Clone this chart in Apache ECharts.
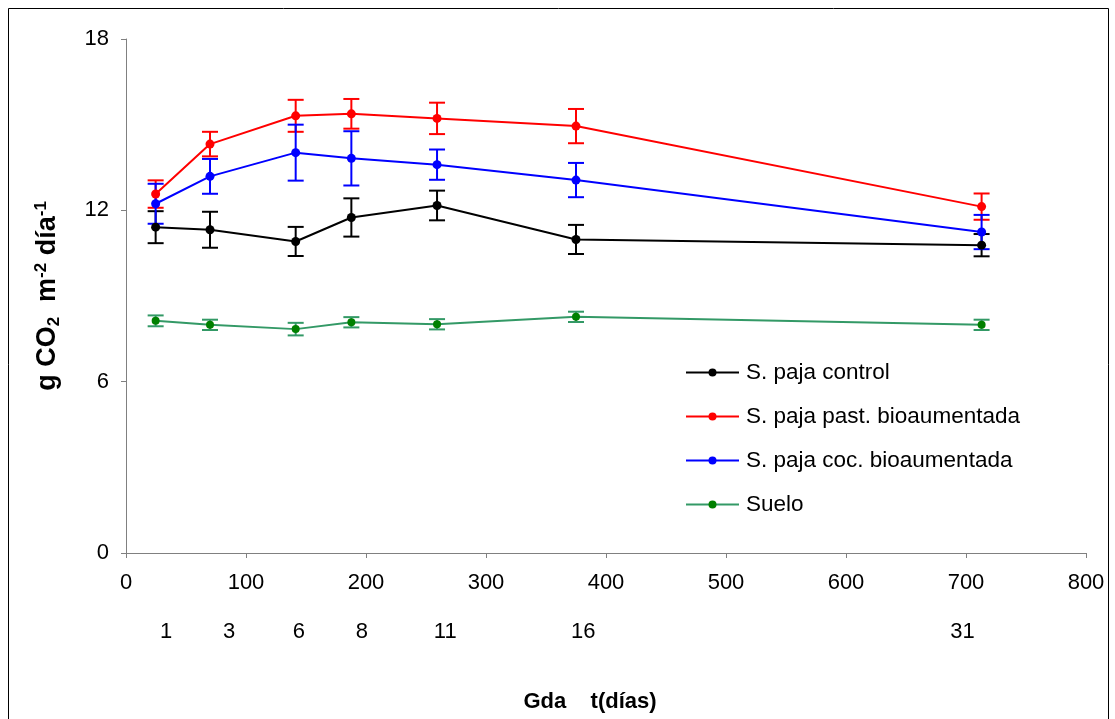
<!DOCTYPE html>
<html>
<head>
<meta charset="utf-8">
<script src="https://cdn.jsdelivr.net/npm/echarts@6/dist/echarts.min.js"></script>
<style>
html,body{margin:0;padding:0;background:#fff;}
#c{width:1115px;height:719px;}
</style>
</head>
<body>
<div id="c"></div>
<script>
// ---- data ----
const xDays = [24.7, 70, 141.4, 187.8, 259.2, 375, 713];
const seriesNames = ['S. paja control', 'S. paja past. bioaumentada', 'S. paja coc. bioaumentada', 'Suelo'];
const control = [11.41, 11.32, 10.91, 11.75, 12.17, 10.98, 10.78];
const controlErr = [0.56, 0.63, 0.51, 0.67, 0.52, 0.51, 0.39];
const past = [12.57, 14.32, 15.31, 15.38, 15.22, 14.95, 12.13];
const pastErr = [0.48, 0.43, 0.56, 0.52, 0.55, 0.60, 0.46];
const coc = [12.23, 13.19, 14.02, 13.82, 13.60, 13.06, 11.24];
const cocErr = [0.70, 0.61, 0.98, 0.95, 0.53, 0.60, 0.60];
const suelo = [8.13, 7.99, 7.84, 8.08, 8.01, 8.27, 7.99];
const sueloErr = [0.19, 0.18, 0.22, 0.18, 0.18, 0.18, 0.18];
const dayLabels = ['1', '3', '6', '8', '11', '16', '31'];
const dayLabelAt = [33.5, 86, 144, 196.5, 266, 381, 697];

const FONT = "'Liberation Sans', Arial, sans-serif";
const lineColors = ['#000000', '#ff0000', '#0000ff', '#339966'];
const markColors = ['#000000', '#ff0000', '#0000ff', '#008000'];
const values = [control, past, coc, suelo];
const errs = [controlErr, pastErr, cocErr, sueloErr];

function errSeries(i) {
  return {
    type: 'custom',
    name: 'err' + i,
    xAxisIndex: 0, yAxisIndex: 0,
    z: 3,
    silent: true,
    data: xDays.map((x, k) => [x, values[i][k], errs[i][k]]),
    renderItem: function (params, api) {
      const x = api.value(0), y = api.value(1), e = api.value(2);
      const t = api.coord([x, y + e]);
      const b = api.coord([x, y - e]);
      const hw = 8;
      const st = { stroke: lineColors[i], lineWidth: 2 };
      return {
        type: 'group',
        children: [
          { type: 'line', shape: { x1: t[0], y1: t[1], x2: b[0], y2: b[1] }, style: st },
          { type: 'line', shape: { x1: t[0] - hw, y1: t[1], x2: t[0] + hw, y2: t[1] }, style: st },
          { type: 'line', shape: { x1: b[0] - hw, y1: b[1], x2: b[0] + hw, y2: b[1] }, style: st }
        ]
      };
    }
  };
}

function lineSeries(i) {
  return {
    type: 'line',
    name: seriesNames[i],
    xAxisIndex: 0, yAxisIndex: 0,
    z: 4,
    data: xDays.map((x, k) => [x, values[i][k]]),
    symbol: 'circle',
    symbolSize: i === 3 ? 8 : 9,
    lineStyle: { color: lineColors[i], width: 2 },
    itemStyle: { color: markColors[i] },
    emphasis: { disabled: true },
    animation: false
  };
}

const chart = echarts.init(document.getElementById('c'), null, { renderer: 'canvas' });
chart.setOption({
  animation: false,
  backgroundColor: '#ffffff',
  textStyle: { fontFamily: FONT },
  graphic: [{
    type: 'rect', silent: true, z: -1,
    shape: { x: 8.5, y: 8.5, width: 1100, height: 730 },
    style: { fill: 'none', stroke: '#000', lineWidth: 1 }
  }],
  grid: { left: 126, right: 29, top: 39, bottom: 166, containLabel: false },
  legend: {
    orient: 'vertical',
    left: 680, top: 356,
    data: seriesNames,
    itemWidth: 53, itemHeight: 10,
    itemGap: 21,
    textStyle: { fontFamily: FONT, fontSize: 22.5, color: '#000', padding: [0, 0, 0, 2] },
    selectedMode: false
  },
  xAxis: [{
    type: 'value', min: 0, max: 800, interval: 100,
    position: 'bottom',
    axisLine: { show: true, onZero: false, lineStyle: { color: '#808080', width: 1 } },
    axisTick: { show: true, length: 5, lineStyle: { color: '#808080' } },
    axisLabel: { fontFamily: FONT, fontSize: 22, color: '#000', margin: 19 },
    splitLine: { show: false },
    name: 'Gda    t(días)',
    nameLocation: 'middle',
    nameGap: 138,
    nameTextStyle: { fontFamily: FONT, fontSize: 22, fontWeight: 'bold', color: '#000', padding: [0, 32, 0, 0] }
  }, {
    type: 'value', min: 0, max: 800,
    position: 'bottom', offset: 49,
    axisLine: { show: false },
    axisTick: { show: false },
    splitLine: { show: false },
    axisLabel: {
      fontFamily: FONT, fontSize: 22, color: '#000', margin: 19,
      customValues: dayLabelAt,
      formatter: function (v) {
        const k = dayLabelAt.indexOf(v);
        return k >= 0 ? dayLabels[k] : '';
      }
    }
  }],
  yAxis: [{
    type: 'value', min: 0, max: 18, interval: 6,
    axisLine: { show: true, lineStyle: { color: '#808080', width: 1 } },
    axisTick: { show: true, length: 5, lineStyle: { color: '#808080' } },
    axisLabel: { fontFamily: FONT, fontSize: 22, color: '#000', margin: 17 },
    splitLine: { show: false },
    name: '{b|g CO}{sub|2}{b|  m}{sup|-2}{b| día}{sup|-1}',
    nameLocation: 'middle',
    nameRotate: 90,
    nameGap: 63,
    nameTextStyle: {
      fontFamily: FONT, color: '#000',
      rich: {
        b: { fontFamily: FONT, fontSize: 27, fontWeight: 'bold', color: '#000', lineHeight: 30 },
        sub: { fontFamily: FONT, fontSize: 17, fontWeight: 'bold', color: '#000', verticalAlign: 'bottom', lineHeight: 17 },
        sup: { fontFamily: FONT, fontSize: 17, fontWeight: 'bold', color: '#000', verticalAlign: 'top', lineHeight: 17 }
      }
    }
  }],
  series: [
    errSeries(0), errSeries(1), errSeries(2), errSeries(3),
    lineSeries(0), lineSeries(1), lineSeries(2), lineSeries(3)
  ]
});
</script>
</body>
</html>
